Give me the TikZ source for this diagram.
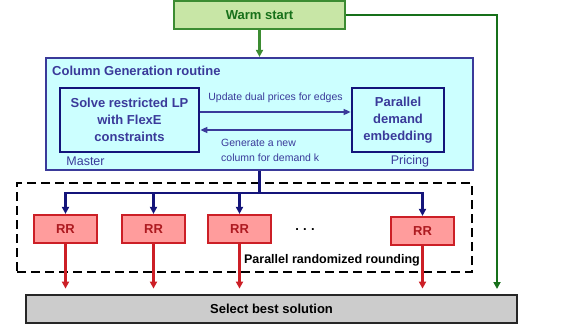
\documentclass[tikz,border=0pt]{standalone}
\usepackage{fontspec}
\setmainfont{Liberation Sans}
\usetikzlibrary{arrows.meta}
\definecolor{warmfill}{HTML}{C8E6A6}
\definecolor{warmline}{HTML}{3C8C32}
\definecolor{darkgreen}{HTML}{17701A}
\definecolor{cgfill}{HTML}{CCFFFF}
\definecolor{cgline}{HTML}{3A3A9A}
\definecolor{navy}{HTML}{14147A}
\definecolor{rrfill}{HTML}{FF9C9C}
\definecolor{rrline}{HTML}{CC1F26}
\definecolor{bestfill}{HTML}{CCCCCC}

\begin{document}
\begin{tikzpicture}[x=1pt, y=-1pt,
  box/.style={draw, line width=2.2pt, inner sep=0pt, align=center,
              font=\fontsize{13}{17}\selectfont\bfseries},
  warmbox/.style={box, fill=warmfill, draw=warmline, text=darkgreen,
                  minimum width=171pt, minimum height=28pt},
  cgbox/.style={draw=cgline, fill=cgfill, line width=2.2pt,
                minimum width=427pt, minimum height=112pt},
  solver/.style={box, draw=navy, line width=2.7pt, text=cgline,
                 minimum height=64pt},
  rrnode/.style={box, fill=rrfill, draw=rrline, text=rrline!85!black,
                 minimum width=63pt, minimum height=28pt},
  note/.style={text=cgline, font=\fontsize{10.5}{14.5}\selectfont,
               inner sep=0pt},
  tree/.style={-{Triangle[length=7pt,width=7pt]}, navy, line width=2.5pt},
  result/.style={-{Triangle[length=7pt,width=7pt]}, rrline, line width=2.5pt},
  loop/.style={-{Triangle[length=7pt,width=6pt]}, cgline, line width=1.5pt}]
  \useasboundingbox (0,0) rectangle (580,327);
  % warm start on top
  \node[warmbox] (warm) at (259.5,15) {Warm start};
  % column generation
  \node[cgbox] (cg) at (259.5,114) {};
  \node[anchor=west, inner sep=0pt, text=cgline,
        font=\fontsize{13}{15}\selectfont\bfseries] (cgtitle) at (52,71)
    {Column Generation routine};
  \node[solver, minimum width=139pt] (master) at (129.5,120)
    {Solve restricted LP\\with FlexE\\constraints};
  \node[solver, minimum width=92pt] (pricing) at (398,120)
    {Parallel\\demand\\embedding};
  \node[note, font=\fontsize{12.5}{14}\selectfont] (masterlbl) at (85.5,161) {Master};
  \node[note, font=\fontsize{12.5}{14}\selectfont] (pricinglbl) at (410,161) {Pricing};
  \draw[loop] ([yshift=8pt]master.east) -- ([yshift=8pt]pricing.west)
    node[note, midway, above=9pt] (duallbl) {Update dual prices for edges};
  \draw[loop] ([yshift=-10pt]pricing.west) -- ([yshift=-10pt]master.east);
  \node[note, anchor=west, align=left] (newcol) at (221,150.5)
    {Generate a new\\column for demand k};
  % parallel randomized rounding
  \node[draw, line width=2.6pt, dash pattern=on 9pt off 5pt,
        minimum width=455pt, minimum height=89pt] (rrbox) at (244.5,227.5) {};
  \node[rrnode] (rr1) at (65.5,229) {RR};
  \node[rrnode] (rr2) at (153.5,229) {RR};
  \node[rrnode] (rr3) at (239.5,229) {RR};
  \node[rrnode] (rr4) at (422.5,231) {RR};
  \node[inner sep=0pt, font=\fontsize{13}{15}\selectfont\bfseries] (dots) at (305,230) {.\,\,.\,\,.};
  \node[inner sep=0pt, font=\fontsize{12.5}{15}\selectfont\bfseries] (rrlbl) at (332,260)
    {Parallel randomized rounding};
  % best solution
  \node[box, fill=bestfill, draw=black!85, line width=2.8pt,
        minimum width=491pt, minimum height=28pt] (best) at (271.5,309)
    {Select best solution};
  % fan out from the column generation
  \coordinate (split) at (259.5,193);
  \draw[navy, line width=2.5pt] (cg.south) -- (split);
  \draw[tree] (split) -| (rr1.north);
  \draw[tree] (split) -| (rr2.north);
  \draw[tree] (split) -| (rr3.north);
  \draw[tree] (split) -| (rr4.north);
  % each rounding reports to the selection
  \draw[result, shorten >=5pt] (rr1.south) -- (rr1.south |- best.north);
  \draw[result, shorten >=5pt] (rr2.south) -- (rr2.south |- best.north);
  \draw[result, shorten >=5pt] (rr3.south) -- (rr3.south |- best.north);
  \draw[result, shorten >=5pt] (rr4.south) -- (rr4.south |- best.north);
  % warm start feeds both
  \draw[-{Triangle[length=7pt,width=7pt]}, warmline, line width=2.5pt]
    (warm.south) -- (cg.north);
  \coordinate (gend) at (497,289);
  \draw[-{Triangle[length=7pt,width=7pt]}, darkgreen, line width=2.5pt]
    (warm.east) -| (gend);
\end{tikzpicture}
\end{document}
